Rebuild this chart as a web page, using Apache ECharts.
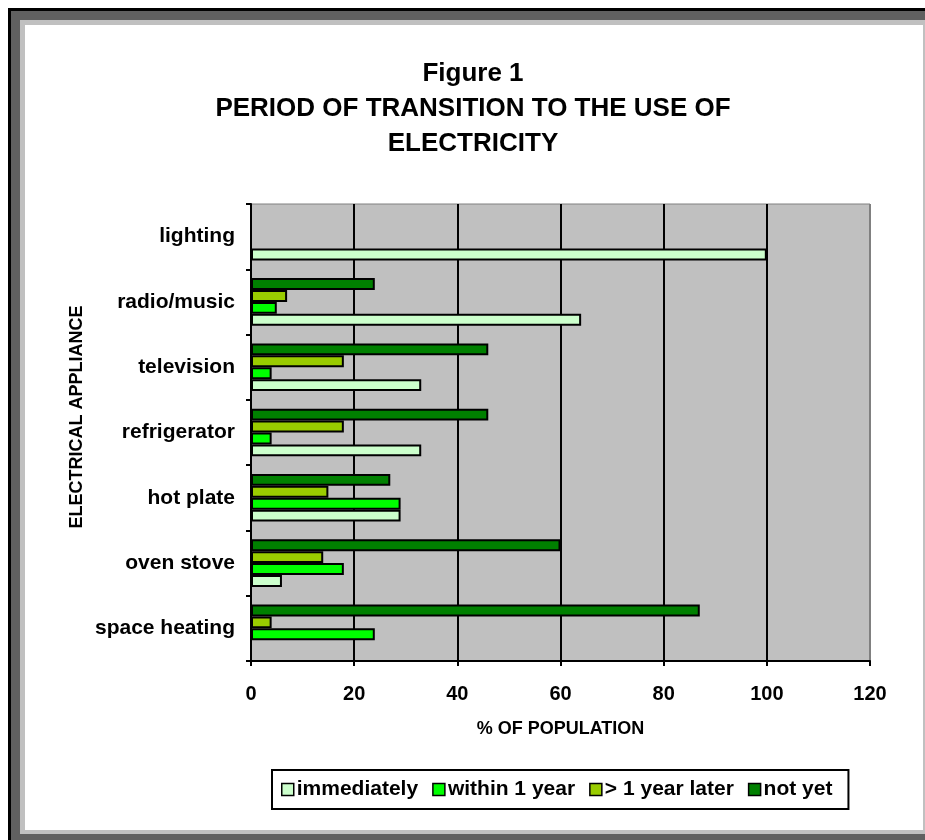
<!DOCTYPE html>
<html>
<head>
<meta charset="utf-8">
<script src="https://cdn.jsdelivr.net/npm/echarts@6/dist/echarts.min.js"></script>
<style>
  html, body { margin: 0; padding: 0; background: #fff; }
  #chart { width: 925px; height: 840px; }
</style>
</head>
<body>
<div id="chart"></div>
<script>
// categories, bottom to top as the value axis draws them
const appliances = ['space heating', 'oven stove', 'hot plate', 'refrigerator', 'television', 'radio/music', 'lighting'];

// % of population for each period
const immediately = [0, 6, 29, 33, 33, 64, 100];
const withinYear = [24, 18, 29, 4, 4, 5, 0];
const laterYear = [4, 14, 15, 18, 18, 7, 0];
const notYet = [87, 60, 27, 46, 46, 24, 0];

const xTicks = [0, 20, 40, 60, 80, 100, 120];

const font = "'Liberation Sans', Arial, sans-serif";
const chart = echarts.init(document.getElementById('chart'));

function barSeries(name, data, color) {
    return {
        name: name, type: 'bar', data: data,
        barGap: '0%', barCategoryGap: '27%',
        itemStyle: { color: color, borderColor: '#000', borderWidth: 2 },
        emphasis: { disabled: true }
    };
}

const option = {
    animation: false,
    title: {
        text: 'Figure 1\nPERIOD OF TRANSITION TO THE USE OF\nELECTRICITY',
        left: 473, top: 56, padding: 0, textAlign: 'center',
        textStyle: { fontFamily: font, fontWeight: 'bold', fontSize: 26, lineHeight: 35, color: '#000' }
    },
    graphic: [
        // excel-style frame around the chart
        { type: 'rect', z: -10, shape: { x: 8, y: 8, width: 940, height: 850 }, style: { fill: '#000' } },
        { type: 'rect', z: -10, shape: { x: 11, y: 11, width: 940, height: 850 }, style: { fill: '#606060' } },
        { type: 'rect', z: -10, shape: { x: 20, y: 20, width: 910, height: 814 }, style: { fill: '#c0c0c0' } },
        { type: 'rect', z: -10, shape: { x: 25, y: 25, width: 898, height: 805 }, style: { fill: '#fff' } },
        {
            type: 'text', x: 77, y: 417, rotation: Math.PI / 2,
            style: { text: 'ELECTRICAL APPLIANCE', fontFamily: font, fontWeight: 'bold', fontSize: 18, fill: '#000', align: 'center', verticalAlign: 'middle' }
        }
    ],
    legend: {
        left: 272, top: 770,
        padding: [9, 16, 9, 9],
        borderColor: '#000', borderWidth: 2,
        itemWidth: 12, itemHeight: 12, itemGap: 14,
        icon: 'rect',
        itemStyle: { borderColor: '#000', borderWidth: 1.5 },
        textStyle: { fontFamily: font, fontWeight: 'bold', fontSize: 21, color: '#000', padding: [0, 0, 0, -2] },
        data: ['immediately', 'within 1 year', '> 1 year later', 'not yet']
    },
    grid: {
        left: 251, right: 55, top: 204, bottom: 179,
        show: true, backgroundColor: '#c0c0c0', borderColor: '#808080', borderWidth: 1
    },
    xAxis: {
        type: 'value', min: xTicks[0], max: xTicks[xTicks.length - 1], interval: 20,
        name: '% OF POPULATION', nameLocation: 'middle', nameGap: 59,
        nameTextStyle: { fontFamily: font, fontWeight: 'bold', fontSize: 18, color: '#000' },
        axisLine: { show: true, lineStyle: { color: '#000', width: 2 } },
        axisTick: { show: true, length: 5, lineStyle: { color: '#000', width: 2 } },
        axisLabel: { margin: 23, fontFamily: font, fontWeight: 'bold', fontSize: 20, color: '#000' },
        splitLine: { show: true, lineStyle: { color: ['#000', '#000', '#000', '#000', '#000', '#000', '#808080'], width: 2 } }
    },
    yAxis: {
        type: 'category', data: appliances,
        axisLine: { show: true, lineStyle: { color: '#000', width: 2 } },
        axisTick: { show: true, length: 5, lineStyle: { color: '#000', width: 2 } },
        axisLabel: { margin: 16, fontFamily: font, fontWeight: 'bold', fontSize: 21, color: '#000' },
        splitLine: { show: false }
    },
    // the first series is drawn at the top of each band, so stack them in reverse
    series: [
        barSeries('not yet', notYet, '#008000'),
        barSeries('> 1 year later', laterYear, '#99cc00'),
        barSeries('within 1 year', withinYear, '#00ff00'),
        barSeries('immediately', immediately, '#ccffcc')
    ]
};
chart.setOption(option);
</script>
</body>
</html>
